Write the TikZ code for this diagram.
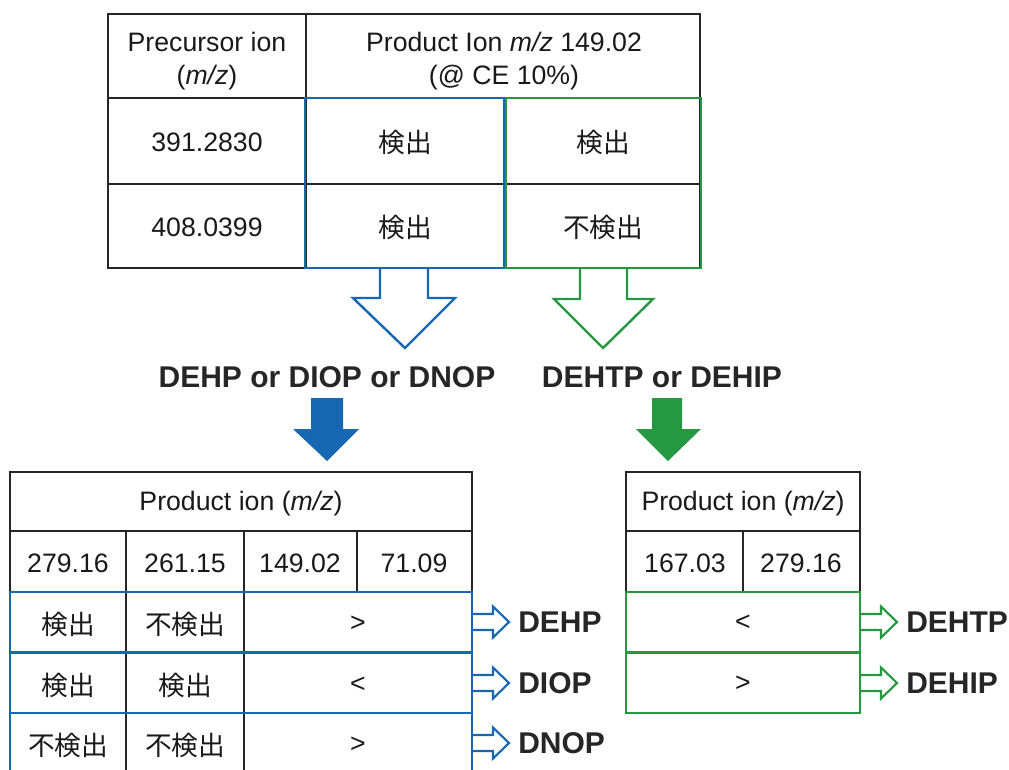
\documentclass[tikz,border=0pt]{standalone}
\usepackage{fontspec}
\setmainfont{Liberation Sans}
\newfontfamily\jpfont{Noto Sans CJK JP}
\usetikzlibrary{positioning}
\definecolor{detblue}{RGB}{22,104,178}
\definecolor{detgreen}{RGB}{38,152,66}

\begin{document}
\begin{tikzpicture}[x=0.75pt,y=-0.75pt,
  font=\fontsize{20}{24.75}\selectfont,
  grid/.style={line width=1.2pt,black!85},
  bluebox/.style={line width=1.8pt,detblue},
  greenbox/.style={line width=1.8pt,detgreen},
  txt/.style={inner sep=0pt,align=center,text=black!90},
  tag/.style={inner sep=0pt,font=\fontsize{22.5}{27}\selectfont\bfseries,text=black!85}]
\useasboundingbox (0,0) rectangle (1009,769);
\clip (0,0) rectangle (1009,769);

% upper table
\draw[grid] (108,14) rectangle (700,268);
\draw[grid] (306,14)--(306,268) (505,98)--(505,268);
\draw[grid] (108,98)--(700,98) (108,184)--(700,184);
\draw[bluebox] (305,98) rectangle (504,268);
\draw[greenbox] (506,98) rectangle (701,268);
\node[txt] (prec) at (207,61) {Precursor ion\\(\textit{m/z})};
\node[txt] (prod) at (504,61) {Product Ion \textit{m/z} 149.02\\(@ CE 10\%)};
\node[txt] (pa) at (207,142) {391.2830};
\node[txt] (pb) at (207,227) {408.0399};
\node[txt] (pa1) at (405,142) {\jpfont 検出};
\node[txt] (pa2) at (603,142) {\jpfont 検出};
\node[txt] (pb1) at (405,227) {\jpfont 検出};
\node[txt] (pb2) at (603,227) {\jpfont 不検出};

% hollow arrows
\draw[bluebox,fill=white] (380,269) -- (380,298) -- (353,298) -- (405,348) -- (455,298) -- (428,298) -- (428,269);
\draw[greenbox,fill=white] (580,269) -- (580,299) -- (554,299) -- (603,348) -- (653,299) -- (627,299) -- (627,269);
\node[tag] (grpA) at (327,377) {DEHP or DIOP or DNOP};
\node[tag] (grpB) at (662,377) {DEHTP or DEHIP};

% filled arrows
\fill[detblue] (311,398) -- (343,398) -- (343,429) -- (359,429) -- (327,461) -- (293,429) -- (311,429) -- cycle;
\fill[detgreen] (652,398) -- (682,398) -- (682,429) -- (701,429) -- (668,461) -- (636,429) -- (652,429) -- cycle;

% lower left table
\draw[grid] (10,472) rectangle (472,776);
\draw[grid] (10,531)--(472,531) (10,592)--(472,592);
\draw[grid] (126,531)--(126,776) (244,531)--(244,776) (357,531)--(357,592);
\foreach \t in {592,653,713} \draw[bluebox] (10,\t) rectangle (472,\t+60);
\node[txt] (hdA) at (241,504) {Product ion (\textit{m/z})};
\node[txt] (ma) at (68,563) {279.16};
\node[txt] (mb) at (185,563) {261.15};
\node[txt] (mc) at (300,563) {149.02};
\node[txt] (md) at (414,563) {71.09};
\node[txt] (ra1) at (68,624) {\jpfont 検出};
\node[txt] (ra2) at (185,624) {\jpfont 不検出};
\node[txt] (ra3) at (358,624) {>};
\node[txt] (rb1) at (68,685) {\jpfont 検出};
\node[txt] (rb2) at (185,685) {\jpfont 検出};
\node[txt] (rb3) at (358,685) {<};
\node[txt] (rc1) at (68,745) {\jpfont 不検出};
\node[txt] (rc2) at (185,745) {\jpfont 不検出};
\node[txt] (rc3) at (358,745) {>};
\foreach \y/\lab in {622/DEHP,683/DIOP,743/DNOP} {
  \draw[bluebox,line width=1.6pt] (472,\y-8) -- ++(21,0) -- ++(0,-7.5) -- ++(16,15.5) -- ++(-16,15.5) -- ++(0,-7.5) -- ++(-21,0);
  \node[tag,anchor=west] (l\lab) at (518,\y) {\lab};
}

% lower right table
\draw[grid] (626,472) rectangle (860,713);
\draw[grid] (626,531)--(860,531) (626,592)--(860,592) (743,531)--(743,592);
\foreach \t in {592,652} \draw[greenbox] (626,\t) rectangle (860,\t+61);
\node[txt] (hdB) at (743,504) {Product ion (\textit{m/z})};
\node[txt] (me) at (685,563) {167.03};
\node[txt] (mf) at (801,563) {279.16};
\node[txt] (re1) at (743,623) {<};
\node[txt] (rf1) at (743,684) {>};
\foreach \y/\lab in {622/DEHTP,683/DEHIP} {
  \draw[greenbox,line width=1.6pt] (860,\y-8) -- ++(21,0) -- ++(0,-7.5) -- ++(16,15.5) -- ++(-16,15.5) -- ++(0,-7.5) -- ++(-21,0);
  \node[tag,anchor=west] (l\lab) at (906,\y) {\lab};
}
\end{tikzpicture}
\end{document}
